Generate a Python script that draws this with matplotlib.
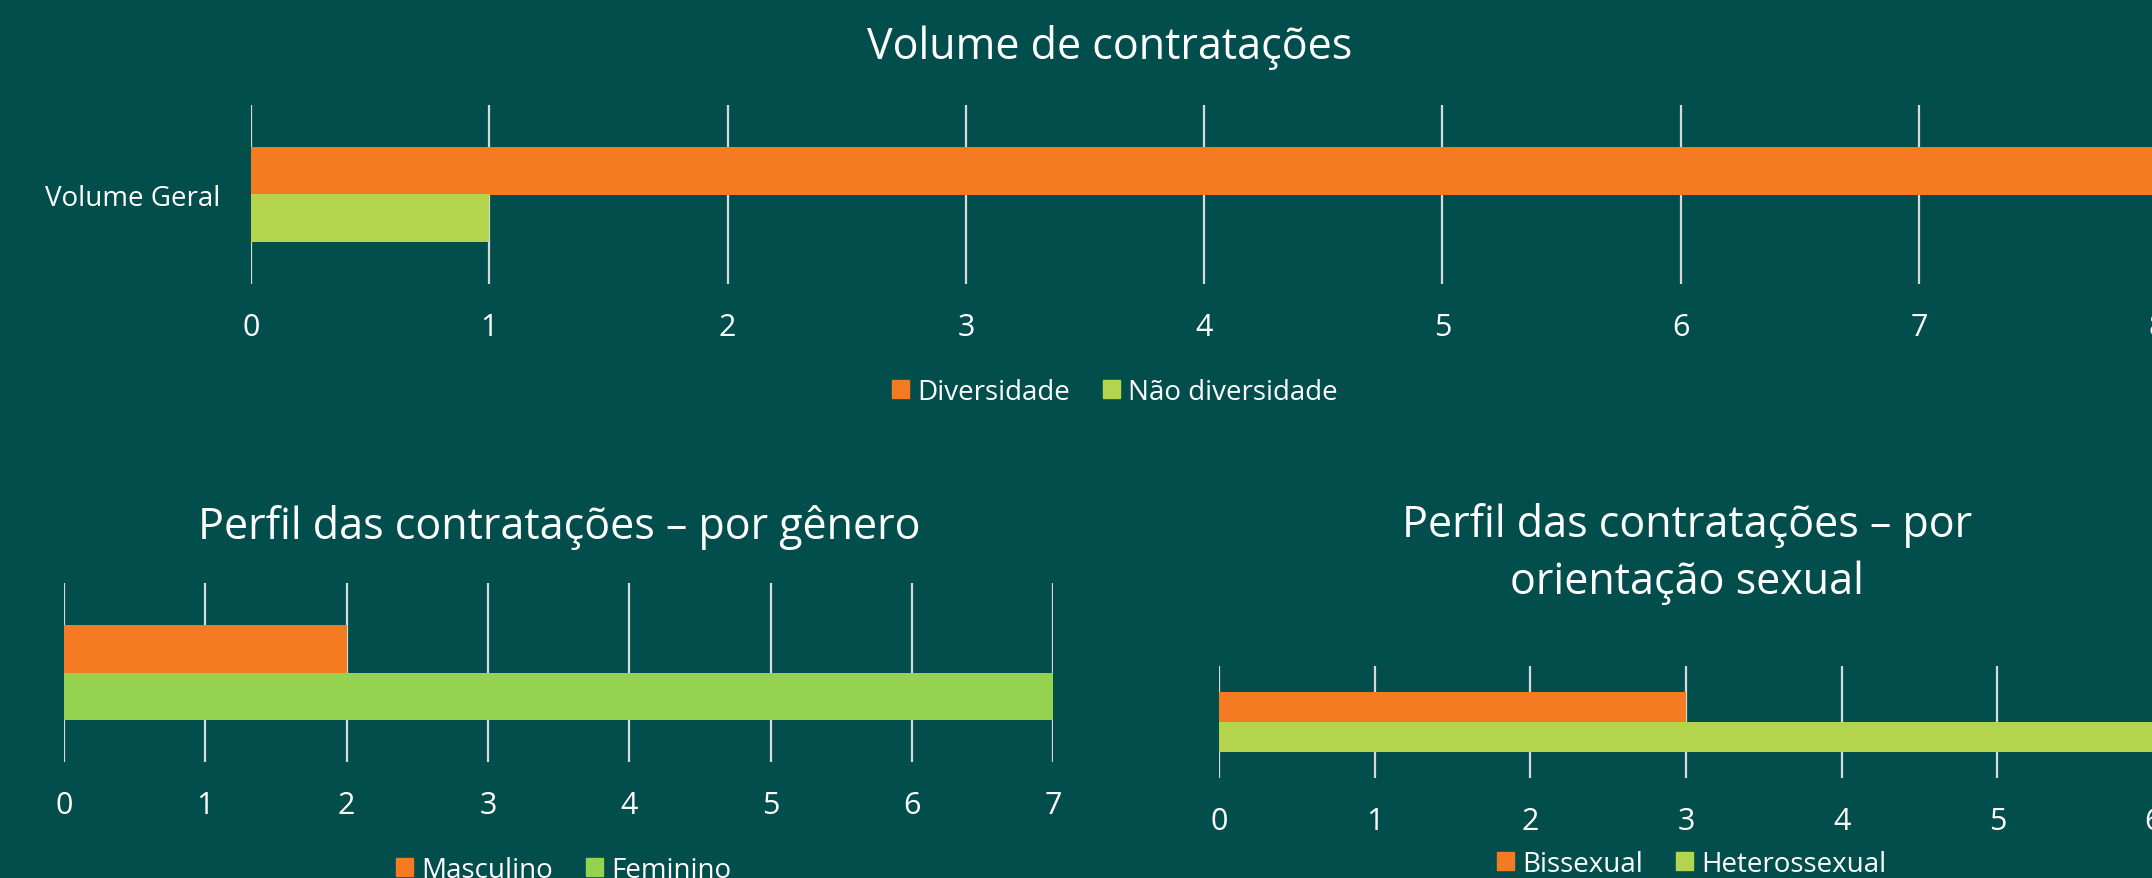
import numpy as np
import matplotlib.pyplot as plt
from matplotlib.patches import Patch

# -------------------- data -------------------------
volume_cat = ['Volume Geral']
volume_labels = ['Diversidade', 'Não diversidade']
volume_vals = [8, 1]

genero_labels = ['Masculino', 'Feminino']
genero_vals = [2, 7]

orient_labels = ['Bissexual', 'Heterossexual']
orient_vals = [3, 6]

# -------------------- style -------------------------
BG = '#024e4c'
ORANGE = '#f57b22'
GREEN_A = '#b3d44c'
GREEN_B = '#94d250'
GRID = '#d9d9d9'
plt.rcParams['font.family'] = ['Open Sans', 'DejaVu Sans']

W, H = 2152, 879
fig = plt.figure(figsize=(W / 100, H / 100), dpi=100, facecolor=BG)


def px_axes(x0, x1, y0, y1):
    # y measured from the top of the picture, in pixels
    return fig.add_axes([x0 / W, 1 - y1 / H, (x1 - x0) / W, (y1 - y0) / H])


def bar_chart(ax, vals, colors, xmax, ylabel='', bh=0.265):
    ax.set_facecolor(BG)
    ys = [bh / 2, -bh / 2]
    for v, y, c in zip(vals, ys, colors):
        ax.barh(y, v, height=bh, color=c, zorder=2)
    ax.set_xlim(0, xmax)
    ax.set_ylim(-0.5, 0.5)
    ax.set_xticks(range(0, xmax + 1))
    ax.set_yticks([0])
    ax.set_yticklabels([ylabel])
    for s in ax.spines.values():
        s.set_visible(False)
    ax.grid(axis='x', color=GRID, lw=1.6, zorder=1)
    ax.set_axisbelow(True)
    ax.tick_params(axis='x', length=0, colors='white', labelsize=22, pad=20)
    ax.tick_params(axis='y', length=0, colors='white', labelsize=20, pad=22)
    ax.patch.set_alpha(0)


def legend(labels, colors, cx, cy):
    fig.legend(handles=[Patch(color=c, label=l) for l, c in zip(labels, colors)],
               loc='center', bbox_to_anchor=(cx / W, 1 - cy / H), ncol=2,
               frameon=False, fontsize=20, labelcolor='white',
               handlelength=0.6, handleheight=0.6, handletextpad=0.3,
               columnspacing=1.2)


# top chart
ax1 = px_axes(251, 251 + 8 * 238.3, 106, 285)
bar_chart(ax1, volume_vals, [ORANGE, GREEN_A], 8, volume_cat[0])
fig.text(1110 / W, 1 - 48 / H, 'Volume de contratações', color='white',
         fontsize=31, ha='center', va='center')
legend(volume_labels, [ORANGE, GREEN_A], 1115, 393)

# bottom left: gender
ax2 = px_axes(64, 64 + 7 * 141.3, 584, 763)
bar_chart(ax2, genero_vals, [ORANGE, GREEN_B], 7)
fig.text(559 / W, 1 - 527 / H, 'Perfil das contratações – por gênero',
         color='white', fontsize=31, ha='center', va='center')
legend(genero_labels, [ORANGE, GREEN_B], 564, 871)

# bottom right: sexual orientation
ax3 = px_axes(1219, 1219 + 6 * 155.7, 667, 779)
bar_chart(ax3, orient_vals, [ORANGE, GREEN_A], 6)
fig.text(1687 / W, 1 - 554 / H, 'Perfil das contratações – por\norientação sexual',
         color='white', fontsize=31, ha='center', va='center', linespacing=1.38)
legend(orient_labels, [ORANGE, GREEN_A], 1692, 865)

fig.savefig('out.png', dpi=100, facecolor=BG)
